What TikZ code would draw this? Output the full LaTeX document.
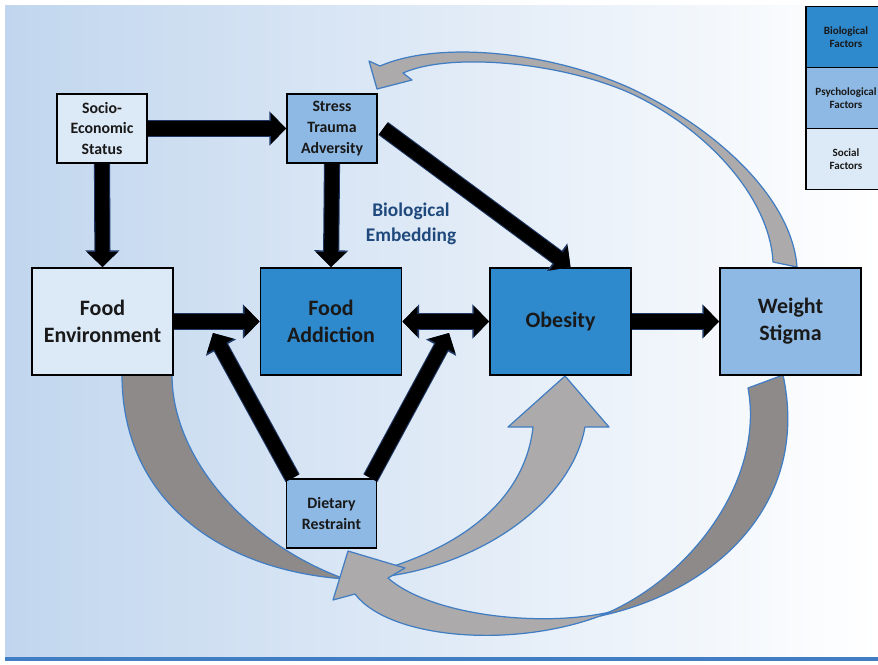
\documentclass[tikz,border=0pt]{standalone}
\usepackage{fontspec}
\setmainfont{Carlito}
\usetikzlibrary{arrows.meta,positioning}

\definecolor{bio}{RGB}{47,137,205}
\definecolor{psy}{RGB}{141,185,228}
\definecolor{soc}{RGB}{220,233,246}
\definecolor{bgblue}{RGB}{193,214,238}
\definecolor{rimblue}{RGB}{65,125,195}
\definecolor{edgenavy}{RGB}{31,56,100}
\definecolor{embedblue}{RGB}{31,73,125}
\definecolor{ribbonlight}{RGB}{172,170,170}
\definecolor{ribbondark}{RGB}{142,138,138}

\tikzset{
  factor/.style={draw=black, line width=1.1pt, align=center, inner sep=1pt, text=black!90},
  smallbox/.style={factor, minimum width=1.8cm, minimum height=1.38cm, font=\bfseries\fontsize{9}{11.8}\selectfont},
  bigbox/.style={factor, minimum width=2.82cm, minimum height=2.14cm, font=\bfseries\fontsize{12.5}{15.3}\selectfont},
  legendbox/.style={factor, minimum width=1.6cm, minimum height=1.22cm, font=\bfseries\fontsize{6.3}{7.4}\selectfont},
  fat/.style={line width=8pt, -{Triangle[length=8.5pt,width=17pt]},
    preaction={draw=edgenavy, line width=9.2pt, -{Triangle[length=9.5pt,width=19pt]}}},
  fatboth/.style={line width=8pt, {Triangle[length=8.5pt,width=17pt]}-{Triangle[length=8.5pt,width=17pt]},
    preaction={draw=edgenavy, line width=9.2pt, {Triangle[length=9.5pt,width=19pt]}-{Triangle[length=9.5pt,width=19pt]}}},
  ribbon/.style={fill=ribbonlight, draw=rimblue, line width=0.7pt, line join=round},
  ribbonback/.style={ribbon, fill=ribbondark},
}

\begin{document}
\begin{tikzpicture}[x=0.02cm, y=-0.02cm]
\useasboundingbox (0,0) rectangle (878,664);
% background
\fill[white] (0,0) rectangle (878,664);
\shade[left color=bgblue, right color=white] (5,5) rectangle (878,656);
\fill[rimblue] (5,657) rectangle (878,661);

% food environment -> obesity
\path[ribbonback] (122,375) .. controls (122,500) and (220,570) .. (345,579)
  .. controls (250,545) and (172,460) .. (172,375) -- cycle;
\path[ribbon] (345,579) .. controls (460,580) and (570,510) .. (585,427)
  -- (609,427) -- (565,376) -- (508,427) -- (533,427)
  .. controls (525,500) and (460,555) .. (345,579) -- cycle;
% weight stigma -> dietary restraint
\path[ribbonback] (600,616) .. controls (720,590) and (810,500) .. (783,375)
  -- (748,388) .. controls (765,480) and (690,580) .. (600,616) -- cycle;
\path[ribbon] (610,612) .. controls (540,628) and (430,615) .. (388,578)
  -- (405,568) -- (348,551) -- (333,600) -- (355,594)
  .. controls (390,640) and (520,650) .. (610,612) -- cycle;
% weight stigma -> stress
\path[ribbon] (797,267) .. controls (792,200) and (720,130) .. (630,88)
  .. controls (550,52) and (440,40) .. (380,66)
  -- (369,61) -- (377,89) -- (412,80) -- (403,73)
  .. controls (450,52) and (560,62) .. (630,93)
  .. controls (710,130) and (770,200) .. (773,262) -- cycle;

\node[smallbox, fill=soc] (ses) at (102,128.5) {Socio-\\Economic\\Status};
\node[smallbox, fill=psy] (stress) at (332,128.5) {Stress\\Trauma\\Adversity};
\node[bigbox, fill=soc] (env) at (102.5,321.5) {Food\\Environment};
\node[bigbox, fill=bio] (fa) at (331,321.5) {Food\\Addiction};
\node[bigbox, fill=bio] (obesity) at (560.5,321.5) {Obesity};
\node[bigbox, fill=psy] (stigma) at (790.5,321.5) {Weight\\Stigma};
\node[smallbox, fill=psy] (diet) at (331.5,513.5) {Dietary\\Restraint};
\node[font=\bfseries\fontsize{11}{14}\selectfont, text=embedblue, align=center] (embed) at (411,224) {Biological\\Embedding};

\node[legendbox, fill=bio] (kbio) at (846,37) {Biological\\Factors};
\node[legendbox, fill=psy] (kpsy) at (846,98) {Psychological\\Factors};
\node[legendbox, fill=soc] (ksoc) at (846,159) {Social\\Factors};

\coordinate (faL) at (213,333);
\coordinate (obL) at (449,333);

\draw[fat] (ses.east) -- (stress.west);
\draw[fat] (ses.south) -- (env.north);
\draw[fat] (stress.south) -- (fa.north);
\draw[fat] ([xshift=3pt]stress.east) -- ([xshift=0.2cm]obesity.north);
\draw[fat] (env.east) -- (fa.west);
\draw[fatboth] (fa.east) -- (obesity.west);
\draw[fat] (obesity.east) -- (stigma.west);
\draw[fat] ([xshift=0.14cm]diet.north west) -- (faL);
\draw[fat] ([xshift=-0.14cm]diet.north east) -- (obL);
\end{tikzpicture}
\end{document}
